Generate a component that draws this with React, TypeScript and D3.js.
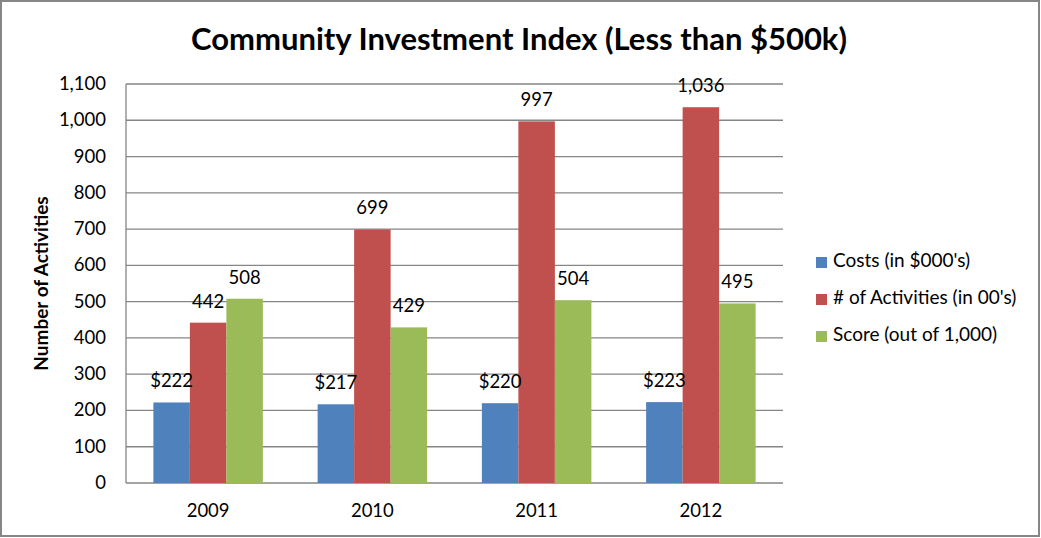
import React from "react";
import * as d3 from "d3";

const years = ["2009", "2010", "2011", "2012"];
const seriesNames = ["Costs (in $000's)", "# of Activities (in 00's)", "Score (out of 1,000)"];
const costs = [222, 217, 220, 223];
const activities = [442, 699, 997, 1036];
const scores = [508, 429, 504, 495];
const seriesColors = ["#4F81BD", "#C0504D", "#9BBB59"];
const yTicks = d3.range(0, 1101, 100);

const W = 1041;
const H = 538;
const plot = { left: 126, right: 783, top: 84, bottom: 483 };
const FONT = "Lato, 'Open Sans', sans-serif";

export default function App() {
  const seriesValues = [costs, activities, scores];
  const x0 = d3.scaleBand<string>().domain(years).range([plot.left, plot.right]).paddingInner(0).paddingOuter(0);
  const bw = x0.bandwidth();
  const barW = bw / (3 + 1.5);
  const groupOffset = (bw - 3 * barW) / 2;
  const y = d3.scaleLinear().domain([0, 1100]).range([plot.bottom, plot.top]);
  const fmt = d3.format(",");
  const labelFmt = (si: number, v: number) => (si === 0 ? "$" + fmt(v) : fmt(v));

  return (
    <svg width={W} height={H} style={{ position: "fixed", left: 0, top: 0, background: "#fff" }} fontFamily={FONT}>
      <rect x={1} y={1} width={W - 3} height={H - 3} fill="#fff" stroke="#868686" strokeWidth={2} />
      <text x={519} y={50} textAnchor="middle" fontSize={31} fontWeight="bold" fill="#000">
        Community Investment Index (Less than $500k)
      </text>
      {yTicks.map((t) => (
        <g key={t}>
          <line x1={plot.left} x2={plot.right} y1={y(t)} y2={y(t)} stroke="#868686" strokeWidth={1.3} />
          <text x={106} y={y(t) + 6} textAnchor="end" fontSize={18.5} fill="#000">
            {fmt(t)}
          </text>
        </g>
      ))}
      <line x1={plot.left} x2={plot.left} y1={plot.top} y2={plot.bottom} stroke="#868686" strokeWidth={1.3} />
      <text transform={`translate(48,${(plot.top + plot.bottom) / 2}) rotate(-90)`} textAnchor="middle" fontSize={19} fontWeight="bold" fill="#000">
        Number of Activities
      </text>
      {seriesValues.map((vals, si) =>
        vals.map((v, i) => (
          <rect key={`${si}-${i}`} x={x0(years[i])! + groupOffset + si * barW} y={y(v)} width={barW} height={plot.bottom - y(v)} fill={seriesColors[si]} />
        ))
      )}
      {seriesValues.map((vals, si) =>
        vals.map((v, i) => (
          <text key={`l${si}-${i}`} x={x0(years[i])! + groupOffset + si * barW + barW / 2} y={y(v) - 15} textAnchor="middle" fontSize={18.5} fill="#000">
            {labelFmt(si, v)}
          </text>
        ))
      )}
      {years.map((yr) => (
        <text key={yr} x={x0(yr)! + bw / 2} y={517} textAnchor="middle" fontSize={18.5} fill="#000">
          {yr}
        </text>
      ))}
      {seriesNames.map((n, si) => (
        <g key={n} transform={`translate(816,${257 + si * 37})`}>
          <rect x={0} y={0} width={11} height={11} fill={seriesColors[si]} />
          <text x={17} y={10} fontSize={19} fill="#000">
            {n}
          </text>
        </g>
      ))}
    </svg>
  );
}
